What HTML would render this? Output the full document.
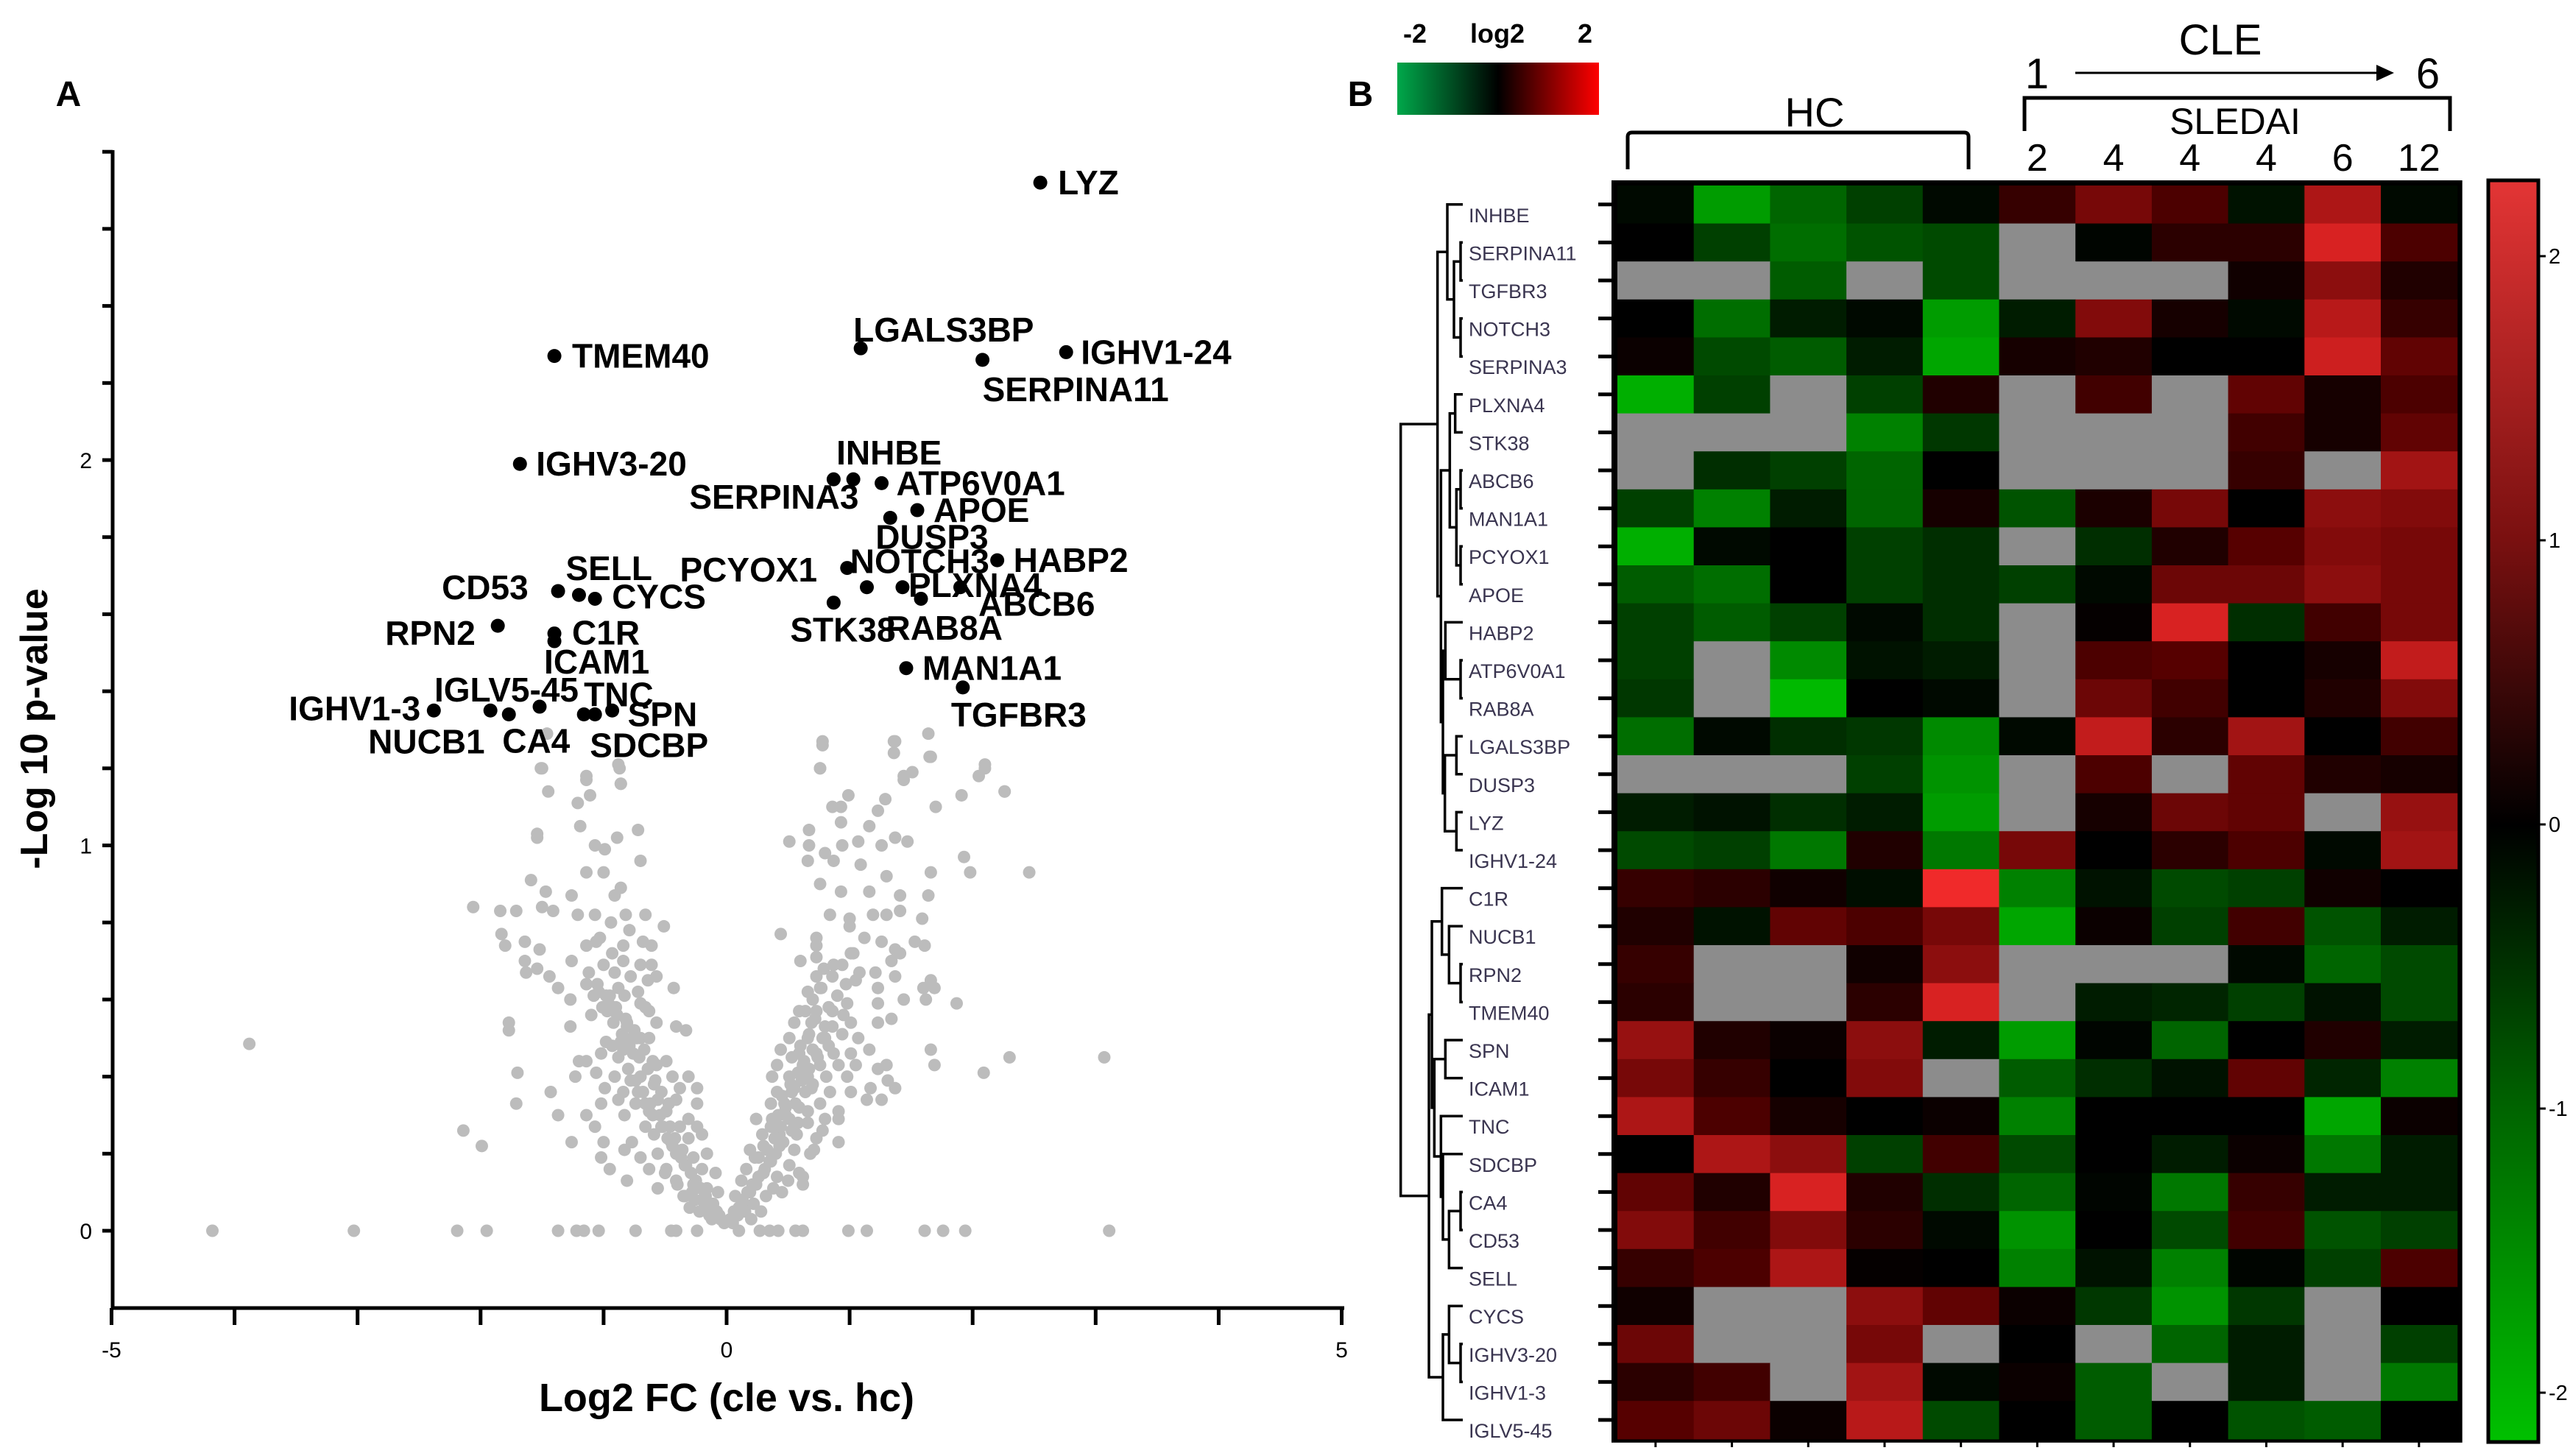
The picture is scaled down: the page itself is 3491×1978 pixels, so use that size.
<!DOCTYPE html>
<html><head><meta charset="utf-8"><style>
html,body{margin:0;padding:0;background:#fff}
svg{display:block}
text{font-family:"Liberation Sans",Arial,sans-serif}
</style></head><body>
<svg id="fig" width="3491" height="1978" viewBox="0 0 3491 1978" xmlns="http://www.w3.org/2000/svg">
<rect width="3491" height="1978" fill="#fff"/>
<text x="93" y="144" font-size="48" font-weight="bold" text-anchor="middle">A</text>
<text x="1848" y="144" font-size="48" font-weight="bold" text-anchor="middle">B</text>
<g id="volcano"></g>
<g id="heat"></g>
</svg>
<script>
// ===== Volcano data =====
const greyX = [-4.18,-3.03,-2.19,-1.95,-1.37,-1.22,-1.16,-1.04,-0.74,-0.45,-0.41,-0.24,0.10,0.27,0.35,0.42,0.56,0.62,0.99,1.14,1.61,1.76,1.94,3.11,
-3.88,-2.14,-1.99,3.07,2.30,2.09,2.46,1.93,1.98,2.26,1.91,2.10,2.05,1.70,
-2.06,-1.84,-1.71,-1.83,-1.80,-1.64,-1.64,-1.59,-1.47,-1.50,-1.41,-1.52,-1.63,-1.54,-1.44,-1.37,-1.77,-1.77,-1.70,-1.71,-1.43,-1.37,-1.26,-1.54,-1.54,-1.45,-1.50,-1.21,-1.19,-1.14,-1.11,-0.87,-0.86,-0.89,-0.72,-1.07,-0.99,-0.70,-1.00,-1.14,-0.86,-0.91,-1.26,-1.21,-1.07,-0.94,-0.66,-0.82,-0.79,-0.51,-1.06,-0.68,-0.61,-1.14,-0.84,-1.26,-1.00,-0.70,-0.61,-0.91,-0.57,-1.14,-0.64,-0.43,-0.88,-1.08,-0.95,-0.83,-1.27,-1.01,-0.70,-0.63,-1.10,-0.57,-0.81,-1.27,-0.41,-0.33,-0.98,-0.86,-0.77,-0.70,-0.63,-0.84,-0.76,-1.20,-1.14,-1.02,-0.49,-0.57,-1.23,-1.06,-0.91,-0.70,-0.44,-0.31,-0.99,-0.84,-0.59,-0.38,-0.24,-1.02,-0.88,-0.74,-0.56,-0.41,-0.24,-1.14,-0.83,-0.63,-0.49,-0.31,-1.07,-0.66,-0.53,-0.38,-0.24,-1.00,-0.77,-0.59,-0.45,-0.31,-0.20,-1.02,-0.83,-0.70,-0.56,-0.41,-0.27,-0.16,-0.95,-0.63,-0.49,-0.34,-0.20,-0.09,-0.81,-0.56,-0.41,-0.27,-0.16,-0.07,-0.34,-0.20,-0.11,-0.06,-0.14,-0.02,
0.05,0.09,0.14,0.07,0.19,0.12,0.24,0.16,0.30,0.41,0.23,0.36,0.51,0.62,0.59,0.19,0.30,0.43,0.55,0.71,0.29,0.43,0.57,0.73,0.91,0.24,0.37,0.51,0.66,0.80,0.91,0.36,0.48,0.59,0.76,0.91,0.41,0.55,0.69,0.84,1.01,1.14,1.26,0.37,0.51,0.66,0.81,0.98,1.17,1.37,0.41,0.62,0.76,0.91,1.05,1.23,1.31,0.44,0.59,0.73,0.87,1.01,1.16,1.30,0.51,0.66,0.80,0.94,1.07,1.66,1.69,0.55,0.69,0.80,1.01,1.23,1.34,0.59,0.73,0.86,0.98,1.23,1.44,1.62,1.87,0.66,0.76,1.05,1.23,1.60,1.69,1.66,0.73,0.79,1.21,1.37,0.60,0.73,0.87,1.34,1.41,0.73,1.01,1.26,1.61,1.37,0.44,0.73,1.53,0.84,1.00,1.19,1.30,1.59,1.41,1.00,0.76,0.93,1.16,1.41,1.64,0.66,0.87,1.09,1.30,1.66,0.51,0.67,0.80,0.94,1.26,1.47,1.07,0.67,0.93,1.16,1.37,0.86,0.93,0.99,1.23,1.29,0.76,1.44,1.44,1.51,1.66,1.36,1.36,0.78,
1.64,1.37,0.78,1.65,-1.46,-1.51,-0.88,-1.14,-0.86,0.76,2.10,2.26,
-0.30,-0.22,-0.12,-0.35,-0.26,-0.18,-0.10,-0.40,-0.28,-0.50,0.15,0.22,0.32,0.45,0.20,0.28,0.38,0.50,0.62,0.68,0.78,
-0.05,-0.08,-0.13,-0.17,-0.21,-0.25,-0.29,-0.33,-0.37,-0.44,-0.48,-0.52,-0.60,-0.66,-0.72,-0.78,-0.36,-0.42,-0.46,-0.54,-0.62,-0.68,-0.74,-0.80,-0.88,-0.93,-0.47,-0.53,-0.58,-0.64,-0.71,-0.79,-0.85,-0.92,-0.97,-0.60,-0.67,-0.73,-0.81,-0.89,-0.96,-1.04,-0.75,-0.82,-0.90,-0.98,-1.05,-1.12,-0.66,-0.72,-0.78,-0.84,-0.93,-1.03,
0.03,0.06,0.10,0.13,0.17,0.21,0.26,0.31,0.35,0.40,0.46,0.53,0.58,0.66,0.26,0.33,0.39,0.44,0.48,0.56,0.64,0.70,0.36,0.42,0.47,0.53,0.61,0.67,0.74,0.83,0.45,0.52,0.58,0.63,0.70,0.78,0.86,0.95,0.53,0.60,0.67,0.72,0.83,0.90,0.97,1.08,0.64,0.70,0.77,0.86,0.94,1.03,1.12];
const greyY = [0,0,0,0,0,0,0,0,0,0,0,0,0,0,0,0,0,0,0,0,0,0,0,0,
0.485,0.26,0.22,0.45,0.45,0.41,0.93,0.97,0.93,1.14,1.13,1.20,1.18,1.10,
0.84,0.83,0.83,0.77,0.74,0.75,0.70,0.91,0.88,0.84,0.83,0.73,0.67,0.68,0.66,0.63,0.54,0.52,0.41,0.33,0.36,0.30,0.23,1.03,1.02,1.14,1.20,1.11,1.05,1.17,1.13,1.20,1.16,1.02,1.04,1.00,0.99,0.96,0.93,0.93,0.89,0.87,0.87,0.82,0.82,0.80,0.82,0.82,0.78,0.79,0.75,0.75,0.74,0.74,0.74,0.70,0.69,0.69,0.69,0.67,0.66,0.64,0.65,0.63,0.63,0.61,0.61,0.61,0.60,0.58,0.59,0.57,0.56,0.54,0.54,0.53,0.53,0.52,0.49,0.49,0.50,0.50,0.50,0.47,0.46,0.44,0.44,0.46,0.44,0.43,0.40,0.41,0.40,0.40,0.40,0.40,0.37,0.36,0.38,0.37,0.37,0.33,0.34,0.33,0.34,0.34,0.33,0.30,0.30,0.31,0.31,0.29,0.27,0.27,0.27,0.27,0.27,0.23,0.23,0.25,0.23,0.24,0.25,0.19,0.21,0.19,0.20,0.20,0.19,0.20,0.16,0.16,0.16,0.17,0.16,0.15,0.13,0.11,0.13,0.12,0.11,0.10,0.09,0.08,0.07,0.04,0.04,0.02,
0.02,0.04,0.07,0.09,0.10,0.13,0.12,0.16,0.15,0.14,0.19,0.18,0.17,0.12,0.15,0.21,0.22,0.22,0.21,0.21,0.25,0.25,0.25,0.24,0.23,0.29,0.29,0.29,0.28,0.29,0.29,0.33,0.32,0.32,0.33,0.31,0.36,0.37,0.37,0.36,0.36,0.34,0.34,0.40,0.40,0.40,0.40,0.40,0.37,0.37,0.43,0.43,0.43,0.43,0.43,0.42,0.39,0.47,0.46,0.46,0.46,0.46,0.47,0.43,0.50,0.50,0.50,0.51,0.50,0.47,0.43,0.54,0.54,0.53,0.54,0.54,0.55,0.57,0.57,0.57,0.59,0.59,0.60,0.60,0.59,0.62,0.63,0.65,0.63,0.63,0.63,0.65,0.66,0.68,0.67,0.66,0.70,0.71,0.69,0.70,0.72,0.74,0.72,0.75,0.74,0.73,0.77,0.76,0.75,0.82,0.81,0.82,0.82,0.81,0.83,0.79,0.90,0.88,0.88,0.87,0.87,0.96,0.96,0.95,0.92,0.93,1.01,1.00,0.98,1.00,1.00,1.01,1.01,1.04,1.06,1.05,1.02,1.10,1.10,1.13,1.09,1.12,1.20,1.17,1.18,1.19,1.23,1.24,1.27,1.27,
1.29,1.27,1.26,1.23,1.29,1.20,1.21,1.18,1.16,1.20,1.21,1.14,
0.06,0.05,0.03,0.09,0.08,0.06,0.05,0.12,0.10,0.15,0.05,0.07,0.09,0.10,0.03,0.05,0.11,0.13,0.14,0.20,0.26,
0.03,0.05,0.07,0.09,0.11,0.13,0.15,0.17,0.19,0.22,0.24,0.27,0.30,0.33,0.36,0.39,0.21,0.24,0.27,0.30,0.33,0.36,0.39,0.42,0.45,0.48,0.33,0.36,0.39,0.42,0.45,0.48,0.51,0.54,0.57,0.44,0.47,0.50,0.53,0.56,0.59,0.62,0.52,0.55,0.58,0.61,0.64,0.67,0.58,0.62,0.66,0.70,0.72,0.76,
0.03,0.05,0.06,0.08,0.10,0.12,0.14,0.16,0.18,0.20,0.23,0.26,0.28,0.31,0.19,0.21,0.24,0.27,0.30,0.33,0.36,0.38,0.27,0.30,0.33,0.36,0.39,0.42,0.45,0.48,0.35,0.38,0.41,0.44,0.47,0.50,0.53,0.56,0.45,0.48,0.51,0.55,0.58,0.61,0.64,0.67,0.57,0.60,0.63,0.66,0.69,0.72,0.76];
const sigNames = ["LYZ","TMEM40","LGALS3BP","SERPINA11","IGHV1-24","IGHV3-20","INHBE","SERPINA3","ATP6V0A1","APOE","DUSP3","HABP2","NOTCH3","PCYOX1","PLXNA4","ABCB6","RAB8A","STK38","MAN1A1","TGFBR3","CD53","SELL","CYCS","RPN2","C1R","ICAM1","IGHV1-3","NUCB1","CA4","IGLV5-45","TNC","SDCBP","SPN"];
const sigX = [2.55,-1.40,1.09,2.08,2.76,-1.68,1.03,0.87,1.26,1.55,1.33,2.20,0.98,1.14,1.43,1.58,1.90,0.87,1.46,1.92,-1.37,-1.20,-1.07,-1.86,-1.40,-1.40,-2.38,-1.92,-1.77,-1.52,-1.16,-1.07,-0.93];
const sigY = [2.72,2.27,2.29,2.26,2.28,1.99,1.95,1.95,1.94,1.87,1.85,1.74,1.72,1.67,1.67,1.64,1.67,1.63,1.46,1.41,1.66,1.65,1.64,1.57,1.55,1.53,1.35,1.35,1.34,1.36,1.34,1.34,1.35];
// label offsets (px, relative to point)
const labDX = [24,24,-10,0,20,22,-23,-196,20,22,-20,22,4,-254,8,78,-101,-59,22,-16,-158,-18,23,-153,24,-14,-197,-166,-9,-143,0,-7,21];
const labDY = [0,0,-25,40,0,0,-36,24,0,0,26,0,-9,-24,-3,7,55,37,0,37,-5,-36,-3,10,-1,28,-3,42,36,-23,-27,42,5];
const xTicks=[-5,0,5];
const yTicks=[0,1,2];

const NS="http://www.w3.org/2000/svg";
function mk(tag,attrs,parent){const e=document.createElementNS(NS,tag);for(const k in attrs)e.setAttribute(k,attrs[k]);parent.appendChild(e);return e;}
const xS=v=>987+v*167.1;
const yS=v=>1672-v*523.5;
const V=document.getElementById('volcano');
for(let i=0;i<greyX.length;i++){
  const c=mk('circle',{cx:xS(greyX[i]),cy:yS(greyY[i]),r:8.5,fill:'#bcbcbc'},V);
  
  
}
for(let i=0;i<sigX.length;i++){
  const c=mk('circle',{cx:xS(sigX[i]),cy:yS(sigY[i]),r:9.5,fill:'#000'},V);
  
  
  const t=mk('text',{x:xS(sigX[i])+labDX[i],y:yS(sigY[i])+labDY[i]+16,'font-size':46,'font-weight':'bold',fill:'#000'},V);
  t.textContent=sigNames[i];
  
  
}
const ya=mk('line',{x1:153,y1:204,x2:153,y2:1779,stroke:'#000','stroke-width':5},V);


const xa=mk('line',{x1:151,y1:1777,x2:1826,y2:1777,stroke:'#000','stroke-width':5},V);


for(let k=0;k<=14;k++){const v=k*0.2;mk('line',{x1:139,y1:yS(v),x2:153,y2:yS(v),stroke:'#000','stroke-width':5},V);}
for(let v=-5;v<=5;v++){mk('line',{x1:xS(v),y1:1777,x2:xS(v),y2:1800,stroke:'#000','stroke-width':5},V);}
yTicks.forEach(v=>{const t=mk('text',{x:125,y:yS(v)+11,'font-size':30,'text-anchor':'end'},V);t.textContent=v;
  
  });
xTicks.forEach(v=>{const t=mk('text',{x:xS(v),y:1844,'font-size':30,'text-anchor':'middle'},V);t.textContent=v;
  
  });
const yt=mk('text',{x:0,y:0,'font-size':52,'font-weight':'bold','text-anchor':'middle',transform:'translate(64,990) rotate(-90)'},V);
yt.textContent='-Log 10 p-value';


const xt=mk('text',{x:987,y:1917,'font-size':54,'font-weight':'bold','text-anchor':'middle','xml:space':'preserve'},V);
xt.textContent='Log2 FC  (cle vs. hc)';



// ===== Heatmap data =====
const genes=["INHBE","SERPINA11","TGFBR3","NOTCH3","SERPINA3","PLXNA4","STK38","ABCB6","MAN1A1","PCYOX1","APOE","HABP2","ATP6V0A1","RAB8A","LGALS3BP","DUSP3","LYZ","IGHV1-24","C1R","NUCB1","RPN2","TMEM40","SPN","ICAM1","TNC","SDCBP","CA4","CD53","SELL","CYCS","IGHV3-20","IGHV1-3","IGLV5-45"];
const sledai=["2","4","4","4","6","12"];
const N=null;
const vals=[
[-0.1,-1.7,-1.1,-0.7,-0.1,0.5,1.1,0.7,-0.2,1.6,-0.1],
[0,-0.7,-1.2,-0.9,-0.8,N,-0.05,0.4,0.4,2.0,0.7],
[N,N,-1.0,N,-0.8,N,N,N,0.15,1.3,0.3],
[0,-1.2,-0.3,-0.1,-1.7,-0.3,1.2,0.2,-0.1,1.7,0.5],
[0.1,-0.8,-1.0,-0.3,-1.8,0.2,0.3,0,0,1.9,0.9],
[-1.9,-0.7,N,-0.7,0.3,N,0.6,N,0.9,0.2,0.7],
[N,N,N,-1.4,-0.6,N,N,N,0.6,0.2,0.9],
[N,-0.5,-0.7,-1.1,0,N,N,N,0.5,N,1.5],
[-0.7,-1.4,-0.3,-1.1,0.2,-0.9,0.25,1.1,0,1.3,1.2],
[-1.9,-0.1,0,-0.7,-0.5,N,-0.5,0.3,0.8,1.2,1.1],
[-1.0,-1.2,0,-0.7,-0.5,-0.7,-0.1,1.0,1.0,1.3,1.1],
[-0.7,-1.0,-0.7,-0.1,-0.5,N,0.05,2.0,-0.5,0.6,1.1],
[-0.7,N,-1.5,-0.2,-0.3,N,0.7,0.8,0,0.2,1.8],
[-0.6,N,-2.1,0,-0.1,N,1.0,0.6,0,0.3,1.2],
[-1.2,-0.1,-0.5,-0.6,-1.5,-0.1,1.8,0.4,1.5,0,0.6],
[N,N,N,-0.7,-1.6,N,0.7,N,0.9,0.3,0.2],
[-0.3,-0.2,-0.5,-0.3,-1.7,N,0.2,1.0,0.9,N,1.4],
[-0.8,-0.7,-1.3,0.3,-1.3,1.1,0,0.4,0.7,-0.1,1.5],
[0.5,0.4,0.15,-0.15,2.3,-1.4,-0.2,-0.8,-0.7,0.15,0],
[0.3,-0.2,0.9,0.7,1.1,-1.8,0.1,-0.7,0.6,-0.9,-0.3],
[0.5,N,N,0.15,1.3,N,N,N,-0.1,-1.1,-0.8],
[0.4,N,N,0.4,2.0,N,-0.3,-0.4,-0.7,-0.2,-0.8],
[1.4,0.3,0.1,1.3,-0.3,-1.7,-0.05,-1.1,0,0.3,-0.3],
[1.1,0.5,0,1.2,N,-1.0,-0.5,-0.2,0.9,-0.4,-1.4],
[1.6,0.7,0.2,0,0.1,-1.4,0,0,0,-1.8,0.1],
[0,1.6,1.3,-0.7,0.6,-0.8,0,-0.3,0.1,-1.3,-0.3],
[0.9,0.3,2.0,0.3,-0.5,-1.1,-0.05,-1.3,0.5,-0.3,-0.3],
[1.2,0.6,1.2,0.4,-0.1,-1.6,0,-0.8,0.6,-0.9,-0.7],
[0.5,0.7,1.6,0.05,0,-1.4,-0.2,-1.4,-0.05,-0.7,0.7],
[0.15,N,N,1.3,0.9,0.1,-0.6,-1.6,-0.6,N,0],
[1.0,N,N,1.1,N,0,N,-1.1,-0.3,N,-0.7],
[0.4,0.6,N,1.5,-0.1,0.1,-1.0,N,-0.3,N,-1.3],
[0.8,1.0,0.1,1.7,-0.8,0,-1.0,0,-0.9,-1.0,0]];
const cbTicks=[2,1,0,-1,-2];

const H=document.getElementById('heat');
const HX0=2197, HY0=252, CW=103.7, RH=51.6;
const colX=j=>HX0+j*CW;
const rowY=i=>HY0+i*RH;
function col(v){
  if(v===null) return '#8c8c8c';
  if(v>=0){const r=Math.min(240,Math.round(108*v));const g=Math.round(Math.max(0,(v-0.8)*28));return `rgb(${r},${g},${g})`;}
  const g=Math.min(185,Math.round(-92*v));return `rgb(0,${g},0)`;
}
mk('rect',{x:HX0-8,y:HY0-7,width:11*CW+15,height:33*RH+12,fill:'#000'},H);
for(let i=0;i<genes.length;i++){
  for(let j=0;j<11;j++){
    const r=mk('rect',{x:colX(j),y:rowY(i),width:CW+0.6,height:RH+0.6,fill:col(vals[i][j])},H);
    
    
  }
  mk('line',{x1:2171,y1:rowY(i)+RH/2,x2:2190,y2:rowY(i)+RH/2,stroke:'#000','stroke-width':5},H);
  const t=mk('text',{x:1995,y:rowY(i)+RH/2+24,'font-size':27,fill:'#3a3550'},H);
  t.textContent=genes[i];
  
  
}
for(let j=0;j<11;j++){mk('line',{x1:colX(j)+CW/2,y1:1958,x2:colX(j)+CW/2,y2:1966,stroke:'#000','stroke-width':3},H);}
const tree=[68,[218,[258,0,[285,[312,1,2],[312,3,4]]],[232,[268,[290,5,6],[295,[312,7,8],[312,9,10]]],[240,[250,11,[312,12,13]],[248,[295,14,15],[295,16,17]]]]],
 [183,[195,[236,18,[265,19,[312,20,21]]],[205,[250,22,23],[232,24,[240,25,[265,[312,26,27],28]]]]],[240,[265,29,[312,30,31]],32]]];
function draw(n){
  if(typeof n==='number') return {x:1987,y:rowY(n)+RH/2};
  const a=draw(n[1]),b=draw(n[2]);const x=1880+n[0]/3;
  const p=mk('path',{d:`M${a.x},${a.y}H${x}V${b.y}H${b.x}`,fill:'none',stroke:'#000','stroke-width':3.5},H);
  
  
  return {x:x,y:(a.y+b.y)/2};
}
draw(tree);
const defs=mk('defs',{},H);
const lg=mk('linearGradient',{id:'lg',x1:0,y1:0,x2:1,y2:0},defs);
mk('stop',{offset:'0','stop-color':'#00a84a'},lg);mk('stop',{offset:'0.5','stop-color':'#000'},lg);mk('stop',{offset:'1','stop-color':'#ff0000'},lg);
const lgb=mk('rect',{x:1898,y:85,width:274,height:71,fill:'url(#lg)'},H);


[['-2',1922],['log2',2034],['2',2153]].forEach(([s,x])=>{const t=mk('text',{x:x,y:58,'font-size':36,'font-weight':'bold','text-anchor':'middle'},H);t.textContent=s;
  
  });
mk('path',{d:'M2211,230V186Q2211,180 2217,180H2668Q2674,180 2674,186V230',fill:'none',stroke:'#000','stroke-width':5},H);
const hc=mk('text',{x:2465,y:172,'font-size':56,'text-anchor':'middle'},H);hc.textContent='HC';


const cle=mk('text',{x:3016,y:74,'font-size':58,'text-anchor':'middle'},H);cle.textContent='CLE';


const one=mk('text',{x:2767,y:120,'font-size':58,'text-anchor':'middle'},H);one.textContent='1';


const six=mk('text',{x:3298,y:120,'font-size':58,'text-anchor':'middle'},H);six.textContent='6';


mk('line',{x1:2819,y1:99,x2:3230,y2:99,stroke:'#000','stroke-width':3},H);
mk('path',{d:'M3228,88L3252,99L3228,110Z',fill:'#000'},H);
mk('path',{d:'M2750,178V133H3328V178',fill:'none',stroke:'#000','stroke-width':5},H);
const sl=mk('text',{x:3036,y:182,'font-size':50,'text-anchor':'middle'},H);sl.textContent='SLEDAI';


sledai.forEach((s,k)=>{const t=mk('text',{x:colX(5+k)+CW/2,y:232,'font-size':52,'text-anchor':'middle'},H);t.textContent=s;
  
  });
const vg=mk('linearGradient',{id:'vg',x1:0,y1:0,x2:0,y2:1},defs);
const cbTop=245,cbBot=1959,cbZero=1120,cbUnit=386;
const cbY=v=>cbZero-v*cbUnit;
[[2.27,'#e33535'],[1,'#7a1010'],[0,'#000'],[-1,'#006400'],[-2.17,'#00c000']].forEach(([v,c])=>{mk('stop',{offset:((cbY(v)-cbTop)/(cbBot-cbTop)).toFixed(3),'stop-color':c},vg);});
const cb=mk('rect',{x:3380,y:cbTop,width:68,height:cbBot-cbTop,fill:'url(#vg)',stroke:'#000','stroke-width':5},H);


cbTicks.forEach(v=>{mk('line',{x1:3448,y1:cbY(v),x2:3458,y2:cbY(v),stroke:'#000','stroke-width':3},H);
  const t=mk('text',{x:3462,y:cbY(v)+10,'font-size':29},H);t.textContent=v;
  
  });
</script>
</body></html>
